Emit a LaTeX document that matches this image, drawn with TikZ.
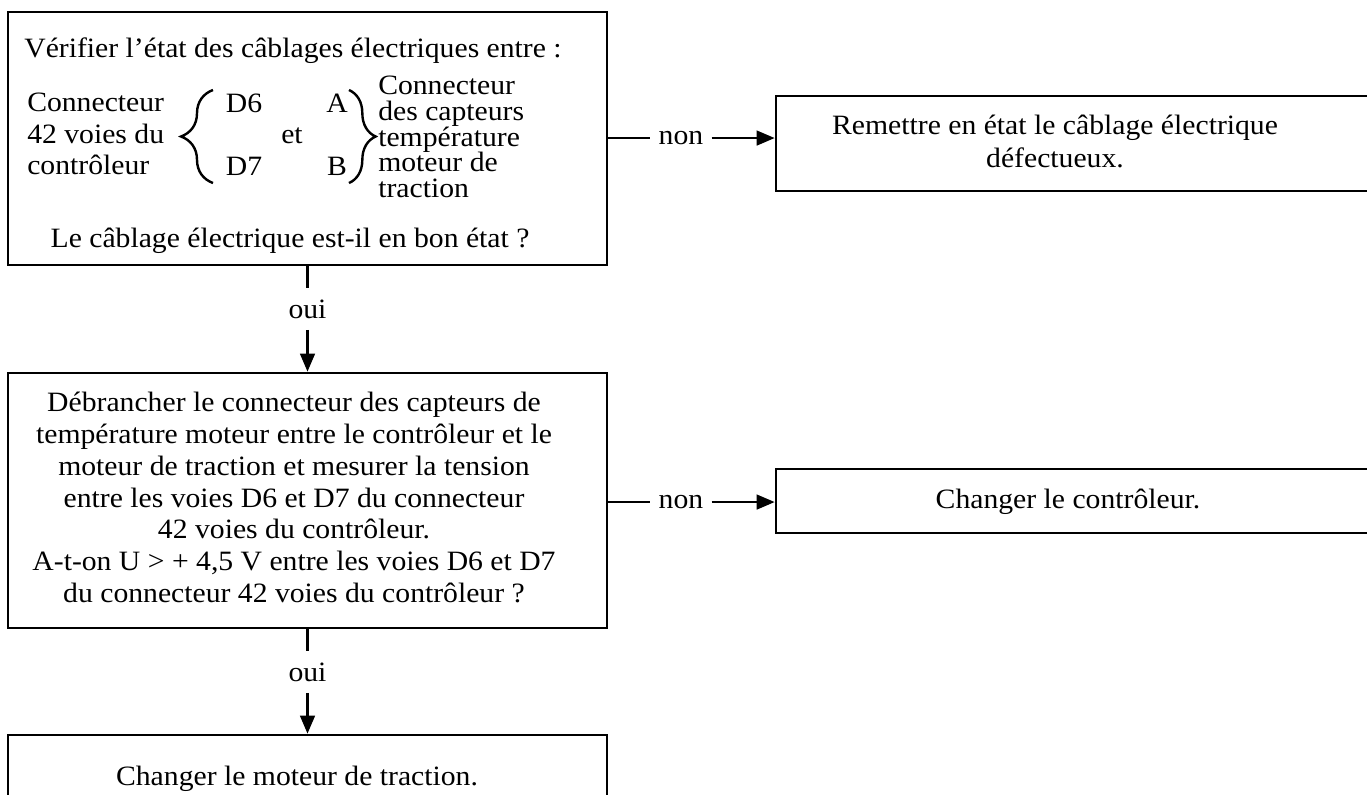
\documentclass[tikz,border=0pt]{standalone}
\usepackage{fontspec}
\setmainfont[FakeStretch=1.06]{Liberation Serif}
\usetikzlibrary{arrows.meta,positioning,decorations.pathreplacing}

\begin{document}
\begin{tikzpicture}[x=0.75pt,y=-0.75pt,>={Triangle[length=13.5pt,width=11pt]},
  every node/.style={font=\fontsize{21}{23.8}\selectfont,inner sep=0pt},
  box/.style={draw,line width=2pt},
  lbl/.style={inner xsep=6pt,inner ysep=8.5pt},
  conn/.style={line width=1.8pt},
  curly/.style={line width=1.8pt,decorate,decoration={brace,amplitude=#1}}]
\useasboundingbox (0,0) rectangle (1367,794);
\clip (0,0) rectangle (1367,794);

% left column: boxes
\node[box,minimum width=449.25pt,minimum height=189.75pt] (chk) at (307.5,138.5) {};
\node[box,minimum width=449.25pt,minimum height=191.25pt] (meas) at (307.5,500.5) {};
\node[box,minimum width=449.25pt,minimum height=71.25pt] (motor) at (307.5,782.5) {};

% first box contents
\node[anchor=base] (verif) at (293,57) {Vérifier l’état des câblages électriques entre :};
\node[align=left,anchor=west,font=\fontsize{21}{23.6}\selectfont] (ctrl) at (27,134) {Connecteur\\42 voies du\\contrôleur};
\node[anchor=base] (d6) at (244,112) {D6};
\node[anchor=base] (d7) at (244,175) {D7};
\node[anchor=base] (et) at (292,143) {et};
\node[anchor=base] (pa) at (337,112) {A};
\node[anchor=base] (pb) at (337,175) {B};
\draw[curly=24pt] (213,183) -- (213,90);
\draw[curly=20pt] (349,90) -- (349,183);
\node[align=left,anchor=west,font=\fontsize{21}{19.3}\selectfont] (capt) at (378,137) {Connecteur\\des capteurs\\température\\moteur de\\traction};
\node[anchor=base] (etat) at (290,247) {Le câblage électrique est-il en bon état ?};

% second and third box contents
\node[align=center] (mtext) at (294,497.5) {Débrancher le connecteur des capteurs de\\température moteur entre le contrôleur et le\\moteur de traction et mesurer la tension\\entre les voies D6 et D7 du connecteur\\42 voies du contrôleur.\\A-t-on U > + 4,5 V entre les voies D6 et D7\\du connecteur 42 voies du contrôleur ?};
\node[anchor=base] (motext) at (297,785) {Changer le moteur de traction.};

% right column
\node[box,minimum width=483pt,minimum height=71.25pt] (repair) at (1098,143.5) {};
\node[align=center,font=\fontsize{21}{24.75}\selectfont] (rtext) at (1055,141) {Remettre en état le câblage électrique\\défectueux.};
\node[box,minimum width=483pt,minimum height=48pt] (ctrlbox) at (1098,501) {};
\node[anchor=base] (ctext) at (1068,508) {Changer le contrôleur.};

% connectors
\node[lbl,anchor=base] (non1) at (681,144.5) {non};
\draw[conn] (non1.west -| chk.east) -- (non1.west);
\draw[conn,->] (non1.east) -- (non1.east -| repair.west);
\node[lbl,anchor=base] (non2) at (681,508.5) {non};
\draw[conn] (non2.west -| meas.east) -- (non2.west);
\draw[conn,->] (non2.east) -- (non2.east -| ctrlbox.west);
\node[lbl,anchor=base] (oui1) at (307.5,318) {oui};
\draw[conn] (chk.south) -- (oui1.north);
\draw[conn,->] (oui1.south) -- (meas.north);
\node[lbl,anchor=base] (oui2) at (307.5,681) {oui};
\draw[conn] (meas.south) -- (oui2.north);
\draw[conn,->] (oui2.south) -- (motor.north);
\end{tikzpicture}
\end{document}
